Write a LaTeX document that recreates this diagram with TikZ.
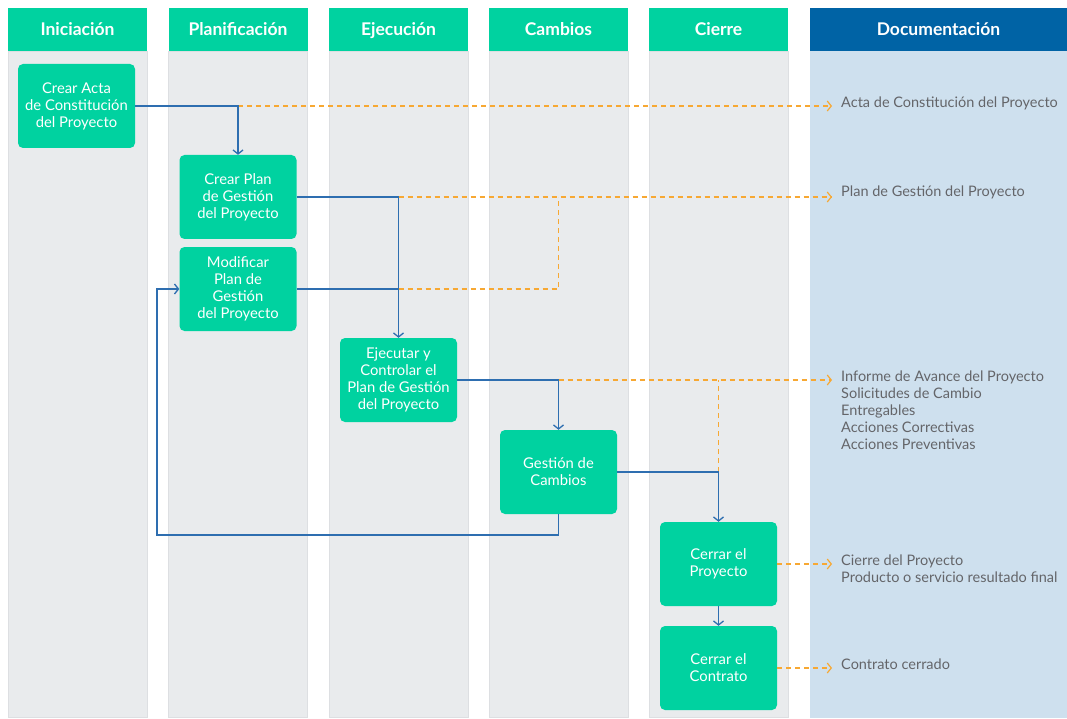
\documentclass[tikz,border=0pt]{standalone}
\usepackage{fontspec}
\setmainfont{Lato}
\usetikzlibrary{arrows.meta,positioning}

\definecolor{phasegreen}{RGB}{0,210,160}
\definecolor{headblue}{RGB}{0,99,165}
\definecolor{lanegray}{RGB}{233,235,237}
\definecolor{laneline}{RGB}{221,223,226}
\definecolor{docblue}{RGB}{206,224,238}
\definecolor{flowblue}{RGB}{46,110,176}
\definecolor{docorange}{RGB}{247,168,51}
\definecolor{docgray}{RGB}{100,101,105}

\begin{document}
\begin{tikzpicture}[x=1pt,y=-1pt]

\def\lanew{139pt}
\def\docw{257pt}
\def\headh{43pt}
\def\laneh{666pt}

\tikzset{head/.style = {fill=phasegreen, text=white, font=\fontsize{17.5}{20}\selectfont\bfseries, minimum width=\lanew, minimum height=\headh, inner sep=0pt, text height=14.5pt, text depth=1.5pt}}
\tikzset{lane/.style = {draw=laneline, fill=lanegray, line width=0.8pt, minimum width=\lanew, minimum height=\laneh, inner sep=0pt}}
\tikzset{task/.style = {fill=phasegreen, text=white, rounded corners=5pt, minimum width=117pt, minimum height=84pt, align=center, inner sep=0pt, font=\fontsize{14.8}{17}\selectfont}}
\tikzset{flow/.style = {draw=flowblue, line width=1.3pt, -{Straight Barb[length=4pt,width=10pt]}}}
\tikzset{link/.style = {draw=flowblue, line width=1.3pt}}
\tikzset{docline/.style = {draw=docorange, line width=1.2pt, dash pattern=on 5pt off 4pt}}
\tikzset{docflow/.style = {docline, -{Straight Barb[length=4pt,width=10pt]}}}
\tikzset{doctext/.style = {anchor=west, align=left, text=docgray, inner sep=0pt, font=\fontsize{14.5}{17}\selectfont}}

\useasboundingbox (0,0) rectangle (1067,719);

% lanes
\path node[lane] (L1) at (77.5,384) {};
\path node[lane] (L2) at (238,384) {};
\path node[lane] (L3) at (398.5,384) {};
\path node[lane] (L4) at (558.5,384) {};
\path node[lane] (L5) at (718.5,384) {};
\path node[lane, fill=docblue, draw=docblue, minimum width=\docw] (L6) at (938.5,384) {};

\path node[head] (H1) at (77.5,29.5) {Iniciación};
\path node[head] (H2) at (238,29.5) {Planificación};
\path node[head] (H3) at (398.5,29.5) {Ejecución};
\path node[head] (H4) at (558.5,29.5) {Cambios};
\path node[head] (H5) at (718.5,29.5) {Cierre};
\path node[head, fill=headblue, minimum width=\docw] (H6) at (938.5,29.5) {Documentación};

% tasks
\path node[task] (B1) at (76.5,106) {Crear Acta\\de Constitución\\del Proyecto};
\path node[task] (B2) at (238,197) {Crear Plan\\de Gestión\\del Proyecto};
\path node[task] (B3) at (238,289) {Modificar\\Plan de\\Gestión\\del Proyecto};
\path node[task] (B4) at (398.5,380) {Ejecutar y\\Controlar el\\Plan de Gestión\\del Proyecto};
\path node[task] (B5) at (558.5,472) {Gestión de\\Cambios};
\path node[task] (B6) at (718.5,564) {Cerrar el\\Proyecto};
\path node[task] (B7) at (718.5,668) {Cerrar el\\Contrato};

% documents
\coordinate (D1) at (832,106);
\coordinate (D2) at (832,197);
\coordinate (D3) at (832,380);
\coordinate (D4) at (832,564);
\coordinate (D5) at (832,668);
\coordinate (R1) at (157,535);

\path node[doctext] (T1) at (841,103) {Acta de Constitución del Proyecto};
\path node[doctext] (T2) at (841,192) {Plan de Gestión del Proyecto};
\path node[doctext] (T3) at (841,410) {Informe de Avance del Proyecto\\Solicitudes de Cambio\\Entregables\\Acciones Correctivas\\Acciones Preventivas};
\path node[doctext] (T4) at (841,568.5) {Cierre del Proyecto\\Producto o servicio resultado final};
\path node[doctext] (T5) at (841,664) {Contrato cerrado};

% dashed outputs
\draw[docflow] (B1.east -| B2.north) -- (D1);
\draw[docflow] (B2.east -| B4.north) -- (D2);
\draw[docline] (B3.east -| B4.north) -| (B5.north |- B2.east);
\draw[docflow] (B4.east -| B5.north) -- (D3);
\draw[docline] (B5.east -| B6.north) -- (B4.east -| B6.north);
\draw[docflow] (B6.east) -- (D4);
\draw[docflow] (B7.east) -- (D5);

% flow
\draw[flow] (B1.east) -| (B2.north);
\draw[flow] (B2.east) -| (B4.north);
\draw[link] (B3.east) -- (B3.east -| B4.north);
\draw[flow] (B4.east) -| (B5.north);
\draw[flow] (B5.east) -| (B6.north);
\draw[flow] (B5.south) |- (R1) |- (B3.west);
\draw[flow] (B6.south) -- (B7.north);

\end{tikzpicture}
\end{document}
